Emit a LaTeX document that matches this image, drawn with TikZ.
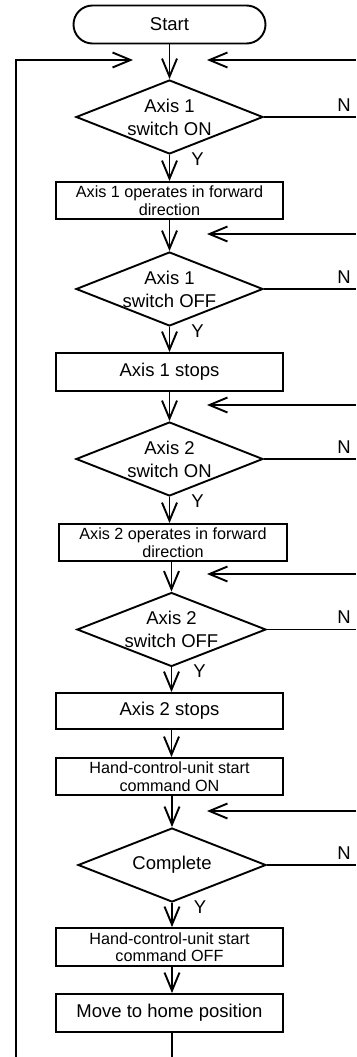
\documentclass[tikz,border=0pt]{standalone}
\usepackage{fontspec}
\setmainfont{Liberation Sans}
\usetikzlibrary{shapes.geometric,arrows.meta}
\begin{document}
\begin{tikzpicture}[x=1pt,y=-1pt, line width=1.9pt,
 big/.style={font=\fontsize{18.5}{23}\selectfont},
 small/.style={font=\fontsize{16.2}{17.5}\selectfont},
 term/.style={draw, rounded corners=19pt, minimum width=192pt, minimum height=38pt, inner sep=0pt, big},
 proc/.style={draw, minimum width=227pt, minimum height=37pt, inner sep=0pt, align=center},
 dec/.style={draw, diamond, aspect=2.5, minimum width=187pt, minimum height=74pt, inner sep=0pt},
 arr/.style={-{Straight Barb[length=18pt,width=15pt]}},
 lab/.style={big, inner sep=0pt}]
\useasboundingbox (0,0) rectangle (356,1057);

% nodes
\node[term] (start) at (169.5,24.5) {Start};
\node[dec, label={[lab,align=center]center:Axis 1\\switch ON}] (d1) at (169.5,117) {};
\node[proc, small] (b1) at (169.5,200.5) {Axis 1 operates in forward\\direction};
\node[dec, label={[lab,align=center]center:Axis 1\\switch OFF}] (d2) at (169.5,289) {};
\node[proc, big, minimum height=38pt] (b2) at (169.5,372) {Axis 1 stops};
\node[dec, label={[lab,align=center]center:Axis 2\\switch ON}] (d3) at (169.5,459) {};
\node[proc, small, minimum width=228pt] (b3) at (173,542.5) {Axis 2 operates in forward\\direction};
\node[dec, minimum width=189pt, label={[lab,align=center]center:Axis 2\\switch OFF}] (d4) at (171.5,629.5) {};
\node[proc, big, minimum height=36pt] (b4) at (169.5,711) {Axis 2 stops};
\node[proc, small] (b5) at (169.5,776.5) {Hand-control-unit start\\command ON};
\node[dec, minimum width=188pt, label={[lab]center:Complete}] (d5) at (172,865) {};
\node[proc, small, minimum height=38pt] (b6) at (169.5,947) {Hand-control-unit start\\command OFF};
\node[proc, big, minimum height=38pt] (b7) at (169.5,1013) {Move to home position};

% Y / N labels
\foreach \d in {d1,d2,d3,d4,d5}{
  \node[lab] at ([shift={(28,4)}]\d.south) {Y};
}
\foreach \d in {d1,d2,d3}{
  \node[lab] at ([shift={(80,-12)}]\d.east) {N};
}
\foreach \d in {d4,d5}{
  \node[lab] at ([shift={(77,-12)}]\d.east) {N};
}

% coordinates
\coordinate (rt) at (356,0);
\coordinate (bot) at (0,1057);
\coordinate (lb) at (16,1057);
\coordinate (lt) at (16,60);
\coordinate (lt2) at (133,60);
\coordinate (r1) at (356,60);   \coordinate (t1) at (207,60);
\coordinate (r2) at (356,234);  \coordinate (t2) at (207,234);
\coordinate (r3) at (356,405);  \coordinate (t3) at (207,405);
\coordinate (r4) at (356,574);  \coordinate (t4) at (207,574);
\coordinate (r5) at (356,811);  \coordinate (t5) at (207,811);

% main flow
\draw[arr] (start.south) -- (start.south |- d1.north);
\draw[arr] (d1.south) -- (d1.south |- b1.north);
\draw[arr] (b1.south) -- (b1.south |- d2.north);
\draw[arr] (d2.south) -- (d2.south |- b2.north);
\draw[arr] (b2.south) -- (b2.south |- d3.north);
\draw[arr] (d3.south) -- (d3.south |- b3.north);
\draw[arr] (b3.south -| d4.north) -- (d4.north);
\draw[arr] (d4.south) -- (d4.south |- b4.north);
\draw[arr] (b4.south -| d4.north) -- (b5.north -| d4.north);
\draw[arr] (b5.south -| d5.north) -- (d5.north);
\draw[arr] (d5.south) -- (d5.south |- b6.north);
\draw[arr] (b6.south -| d5.north) -- (b7.north -| d5.north);
\draw (b7.south -| d5.north) -- (bot -| d5.north);

% N branches to the right edge
\foreach \d in {d1,d2,d3,d4,d5}{
  \draw (\d.east) -- (\d.east -| rt);
}
% return arrows
\draw[arr] (r1) -- (t1);
\draw[arr] (r2) -- (t2);
\draw[arr] (r3) -- (t3);
\draw[arr] (r4) -- (t4);
\draw[arr] (r5) -- (t5);

% left loop
\draw[arr] (lb) -- (lt) -- (lt2);
\end{tikzpicture}
\end{document}
